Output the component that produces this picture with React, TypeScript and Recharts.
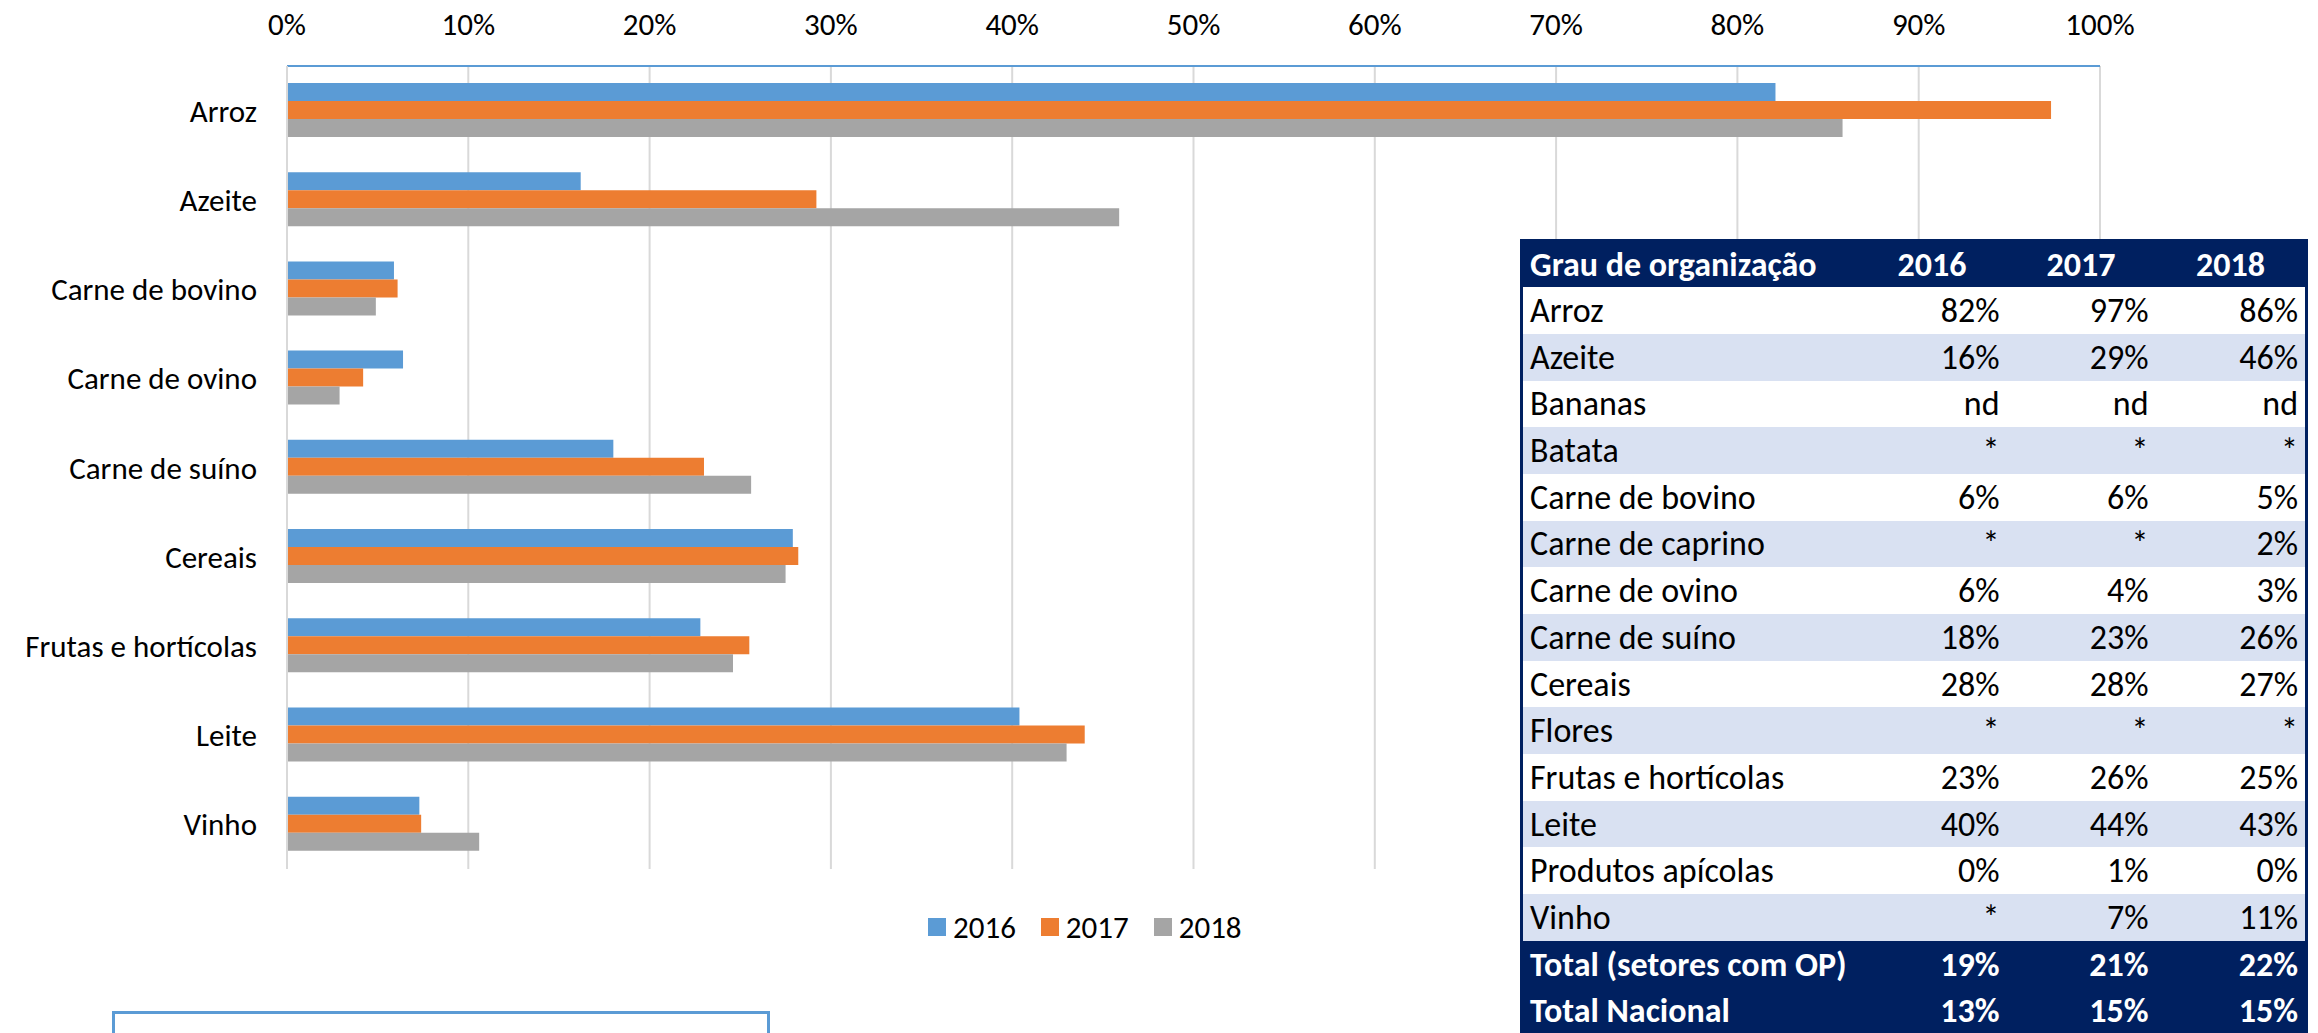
import { BarChart, Bar, XAxis, YAxis, CartesianGrid, Legend } from 'recharts'

const categories = [
  'Arroz',
  'Azeite',
  'Carne de bovino',
  'Carne de ovino',
  'Carne de suíno',
  'Cereais',
  'Frutas e hortícolas',
  'Leite',
  'Vinho',
]
const values2016 = [82.1, 16.2, 5.9, 6.4, 18.0, 27.9, 22.8, 40.4, 7.3]
const values2017 = [97.3, 29.2, 6.1, 4.2, 23.0, 28.2, 25.5, 44.0, 7.4]
const values2018 = [85.8, 45.9, 4.9, 2.9, 25.6, 27.5, 24.6, 43.0, 10.6]
const percentTicks = [0, 10, 20, 30, 40, 50, 60, 70, 80, 90, 100]

const years = ['2016', '2017', '2018']
const tableLabels = [
  'Arroz',
  'Azeite',
  'Bananas',
  'Batata',
  'Carne de bovino',
  'Carne de caprino',
  'Carne de ovino',
  'Carne de suíno',
  'Cereais',
  'Flores',
  'Frutas e hortícolas',
  'Leite',
  'Produtos apícolas',
  'Vinho',
]
const table2016 = ['82%', '16%', 'nd', '*', '6%', '*', '6%', '18%', '28%', '*', '23%', '40%', '0%', '*']
const table2017 = ['97%', '29%', 'nd', '*', '6%', '*', '4%', '23%', '28%', '*', '26%', '44%', '1%', '7%']
const table2018 = ['86%', '46%', 'nd', '*', '5%', '2%', '3%', '26%', '27%', '*', '25%', '43%', '0%', '11%']
const totalLabels = ['Total (setores com OP)', 'Total Nacional']
const totals2016 = ['19%', '13%']
const totals2017 = ['21%', '15%']
const totals2018 = ['22%', '15%']

const colors = ['#5B9BD5', '#ED7D31', '#A5A5A5']
const FONT = "Carlito, 'Liberation Sans Narrow', 'DejaVu Sans Condensed', sans-serif"
const NAVY = '#002060'
const STRIPE = '#D9E1F2'
const ROW_H = 46.7

const data = categories.map((name, i) => ({
  name,
  y2016: values2016[i],
  y2017: values2017[i],
  y2018: values2018[i],
}))

function LegendContent() {
  return (
    <div style={{ display: 'flex', alignItems: 'center', fontFamily: FONT, fontSize: 31 }}>
      {years.map((y, i) => (
        <div key={y} style={{ display: 'flex', alignItems: 'center', marginRight: 25 }}>
          <div style={{ width: 18, height: 18, background: colors[i], marginRight: 7 }} />
          <span>{y}</span>
        </div>
      ))}
    </div>
  )
}

function Cell({ children, right, bold, color, pr }: any) {
  return (
    <td
      style={{
        padding: 0,
        paddingLeft: right ? 0 : 7,
        paddingRight: right ? pr : 0,
        textAlign: right ? 'right' : 'left',
        fontWeight: bold ? 700 : 400,
        color: color || '#000',
        whiteSpace: 'nowrap',
      }}
    >
      {children}
    </td>
  )
}

function OrgTable() {
  const colWidths = [360, 125, 149, 151]
  return (
    <table
      style={{
        position: 'absolute',
        left: 1520,
        top: 239,
        width: 785,
        borderCollapse: 'collapse',
        tableLayout: 'fixed',
        fontFamily: FONT,
        fontSize: 34,
        border: `3px solid ${NAVY}`,
        background: '#fff',
        zIndex: 2,
      }}
    >
      <colgroup>
        {colWidths.map((w, i) => (
          <col key={i} style={{ width: w }} />
        ))}
      </colgroup>
      <tbody>
        <tr style={{ height: ROW_H, background: NAVY }}>
          <Cell bold color="#fff">Grau de organização</Cell>
          {years.map((y) => (
            <Cell key={y} right bold color="#fff" pr={40}>
              {y}
            </Cell>
          ))}
        </tr>
        {tableLabels.map((label, i) => (
          <tr key={label} style={{ height: ROW_H, background: i % 2 === 1 ? STRIPE : '#fff' }}>
            <Cell>{label}</Cell>
            <Cell right pr={7}>{table2016[i]}</Cell>
            <Cell right pr={7}>{table2017[i]}</Cell>
            <Cell right pr={7}>{table2018[i]}</Cell>
          </tr>
        ))}
        {totalLabels.map((label, i) => (
          <tr key={label} style={{ height: ROW_H, background: NAVY }}>
            <Cell bold color="#fff">{label}</Cell>
            <Cell right bold color="#fff" pr={7}>{totals2016[i]}</Cell>
            <Cell right bold color="#fff" pr={7}>{totals2017[i]}</Cell>
            <Cell right bold color="#fff" pr={7}>{totals2018[i]}</Cell>
          </tr>
        ))}
      </tbody>
    </table>
  )
}

export default function App() {
  return (
    <div
      style={{
        position: 'absolute',
        left: 0,
        top: 0,
        width: 2318,
        height: 1033,
        overflow: 'hidden',
        background: '#fff',
        fontFamily: FONT,
      }}
    >
      <BarChart
        width={2318}
        height={960}
        data={data}
        layout="vertical"
        margin={{ top: 0, right: 218, bottom: 91, left: 0 }}
        barCategoryGap="19%"
        barGap={0}
      >
        <CartesianGrid horizontal={false} stroke="#D9D9D9" strokeWidth={2} />
        <XAxis
          type="number"
          orientation="top"
          domain={[0, 100]}
          ticks={percentTicks}
          tickFormatter={(v) => `${v}%`}
          height={66}
          tickLine={false}
          tickSize={0}
          tickMargin={31}
          axisLine={{ stroke: '#5B9BD5', strokeWidth: 2 }}
          tick={{ fill: '#000', fontSize: 31, fontFamily: FONT }}
          interval={0}
        />
        <YAxis
          type="category"
          dataKey="name"
          width={287}
          tickLine={false}
          tickSize={0}
          tickMargin={30}
          axisLine={{ stroke: '#D9D9D9', strokeWidth: 2 }}
          tick={{ fill: '#000', fontSize: 31, fontFamily: FONT }}
          interval={0}
        />
        {years.map((y, i) => (
          <Bar key={y} dataKey={`y${y}`} name={y} fill={colors[i]} isAnimationActive={false} />
        ))}
        <Legend
          verticalAlign="middle"
          align="center"
          content={<LegendContent />}
          wrapperStyle={{ position: 'absolute', top: 908, left: 928, width: 'auto' }}
        />
      </BarChart>
      <OrgTable />
      <div
        style={{
          position: 'absolute',
          left: 112,
          top: 1011,
          width: 652,
          height: 60,
          border: '3px solid #5B9BD5',
          background: '#fff',
        }}
      />
    </div>
  )
}
